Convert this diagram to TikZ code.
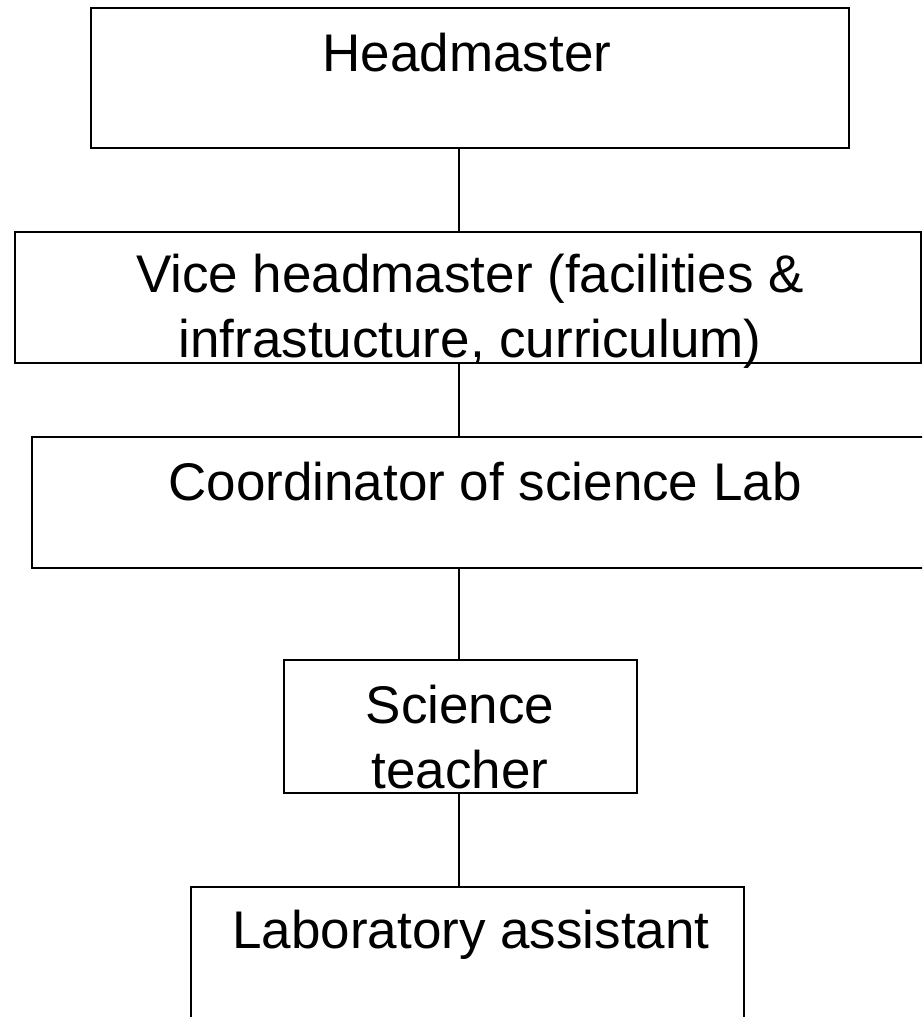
\documentclass[tikz,border=0pt]{standalone}
\usepackage{fontspec}
\setmainfont{Liberation Sans}
\begin{document}
\begin{tikzpicture}[x=1pt,y=-1pt,
  box/.style={draw, line width=1.8pt, rectangle, inner sep=0pt, outer sep=0pt, anchor=north west},
  lbl/.style={font=\fontsize{53}{65}\selectfont, inner sep=0pt, anchor=base, align=center},
  link/.style={line width=1.8pt}]
\clip (0,0) rectangle (922,1017);
\fill[white] (0,0) rectangle (922,1017);
\coordinate (axis) at (459,0);
\node[box, minimum width=758pt, minimum height=140pt] (hm) at (91,8) {};
\node[box, minimum width=906pt, minimum height=131pt] (vh) at (15,232) {};
\node[box, minimum width=920pt, minimum height=131pt] (co) at (32,437) {};
\node[box, minimum width=553pt, minimum height=133pt, minimum width=353pt] (st) at (284,660) {};
\node[box, minimum width=553pt, minimum height=160pt] (la) at (191,887) {};
\draw[link] (hm.south -| axis) -- (vh.north -| axis);
\draw[link] (vh.south -| axis) -- (co.north -| axis);
\draw[link] (co.south -| axis) -- (st.north -| axis);
\draw[link] (st.south -| axis) -- (la.north -| axis);
\node[lbl] (thm) at (467,71) {Headmaster};
\node[lbl] (tvh) at (470,357) {Vice headmaster (facilities \&\\infrastucture, curriculum)};
\node[lbl] (tco) at (485,500) {Coordinator of science Lab};
\node[lbl] (tst) at (460,788) {Science\\teacher};
\node[lbl] (tla) at (471,948) {Laboratory assistant};
\end{tikzpicture}
\end{document}
